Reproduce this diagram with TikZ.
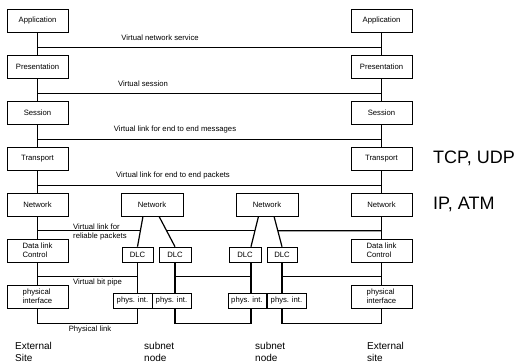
\documentclass[tikz,border=0pt]{standalone}
\usepackage{fontspec}
\setmainfont{Liberation Sans}
\begin{document}
\begin{tikzpicture}[x=1pt, y=-1pt,
    layer/.style={draw, line width=0.6pt, minimum width=61pt, minimum height=23pt,
        inner sep=1pt, align=left, font=\fontsize{7.7}{9}\selectfont},
    smallbox/.style={draw, line width=0.6pt, minimum height=15pt, inner sep=1pt,
        font=\fontsize{7.7}{9}\selectfont},
    link/.style={line width=1.2pt},
    vlabel/.style={inner sep=0pt, font=\fontsize{7.7}{9}\selectfont},
    sitelabel/.style={inner sep=0pt, anchor=north west, align=left,
        font=\fontsize{10}{12}\selectfont},
    protolabel/.style={inner sep=0pt, anchor=west, font=\fontsize{18}{20}\selectfont}]
    \useasboundingbox (0,0) rectangle (523,363);
    % end system, left
    \node[layer] (appL) at (37.5,20.5) {Application};
    \node[layer] (presL) at (37.5,66.5) {Presentation};
    \node[layer] (sessL) at (37.5,112.5) {Session};
    \node[layer] (tranL) at (37.5,158.5) {Transport};
    \node[layer] (netL) at (37.5,204.5) {Network};
    \node[layer] (dlcL) at (37.5,250.5) {Data link\\Control};
    \node[layer] (phyL) at (37.5,296.5) {physical\\interface};
    % end system, right
    \node[layer] (appR) at (381.5,20.5) {Application};
    \node[layer] (presR) at (381.5,66.5) {Presentation};
    \node[layer] (sessR) at (381.5,112.5) {Session};
    \node[layer] (tranR) at (381.5,158.5) {Transport};
    \node[layer] (netR) at (381.5,204.5) {Network};
    \node[layer] (dlcR) at (381.5,250.5) {Data link\\Control};
    \node[layer] (phyR) at (381.5,296.5) {physical\\interface};
    % subnet nodes
    \node[smallbox, minimum width=62pt, minimum height=23pt] (netA) at (152,204.5) {Network};
    \node[smallbox, minimum width=62pt, minimum height=23pt] (netB) at (267,204.5) {Network};
    \node[smallbox, minimum width=31pt] (dlcA) at (137.5,254.5) {DLC};
    \node[smallbox, minimum width=32pt] (dlcB) at (175,254.5) {DLC};
    \node[smallbox, minimum width=32pt] (dlcC) at (245,254.5) {DLC};
    \node[smallbox, minimum width=30pt] (dlcD) at (282,254.5) {DLC};
    \node[smallbox, minimum width=39pt] (physA) at (132.5,300.5) {phys. int.};
    \node[smallbox, minimum width=39pt] (physB) at (171.5,300.5) {phys. int.};
    \node[smallbox, minimum width=38pt] (physC) at (247,300.5) {phys. int.};
    \node[smallbox, minimum width=39pt] (physD) at (286.5,300.5) {phys. int.};
    % layer stacks
    \draw[link] (appL) -- (presL) (presL) -- (sessL) (sessL) -- (tranL)
        (tranL) -- (netL) (netL) -- (dlcL) (dlcL) -- (phyL);
    \draw[link] (appR) -- (presR) (presR) -- (sessR) (sessR) -- (tranR)
        (tranR) -- (netR) (netR) -- (dlcR) (dlcR) -- (phyR);
    % peer links
    \draw[link] ([yshift=7.5pt]presL.north) -- ([yshift=7.5pt]presR.north);
    \draw[link] ([yshift=7.5pt]sessL.north) -- ([yshift=7.5pt]sessR.north);
    \draw[link] ([yshift=7.5pt]tranL.north) -- ([yshift=7.5pt]tranR.north);
    \draw[link] ([yshift=7.5pt]netL.north) -- ([yshift=7.5pt]netR.north);
    % network to DLC
    \coordinate (sA) at ([xshift=-9pt]netA.south);
    \coordinate (sB) at ([xshift=7pt]netA.south);
    \coordinate (sC) at ([xshift=-8.5pt]netB.south);
    \coordinate (sD) at ([xshift=7pt]netB.south);
    \coordinate (tA) at (dlcA.north);
    \coordinate (tB) at (dlcB.north);
    \coordinate (tC) at ([xshift=6pt]dlcC.north);
    \coordinate (tD) at (dlcD.north);
    \draw[link] (sA) -- (tA);
    \draw[link] (sB) -- (tB);
    \draw[link] (sC) -- (tC);
    \draw[link] (sD) -- (tD);
    \coordinate (rlL) at ([yshift=8pt]dlcL.north);
    \coordinate (rlR) at ([yshift=8pt]dlcR.north);
    \draw[link] (rlL) -- (intersection of sA--tA and rlL--rlR);
    \draw[link] (intersection of sB--tB and rlL--rlR) -- (intersection of sC--tC and rlL--rlR);
    \draw[link] (intersection of sD--tD and rlL--rlR) -- (rlR);
    % DLC to physical interface
    \draw[link] (tA |- dlcA.south) -- (tA |- physA.north);
    \draw[link] (tB |- dlcB.south) -- (tB |- physB.north);
    \draw[link] (tC |- dlcC.south) -- (tC |- physC.north);
    \draw[link] (tD |- dlcD.south) -- (tD |- physD.north);
    \coordinate (bpL) at ([yshift=8pt]phyL.north);
    \coordinate (bpR) at ([yshift=8pt]phyR.north);
    \draw[link] (bpL) -- (bpL -| tA);
    \draw[link] (bpL -| tB) -- (bpL -| tC);
    \draw[link] (bpL -| tD) -- (bpR);
    % physical links
    \draw[link] (phyL.south) -- ++(0,15.5) -| (tA |- physA.south);
    \draw[link] (tB |- physB.south) -- ++(0,15.5) -| (tC |- physC.south);
    \draw[link] (tD |- physD.south) -- ++(0,15.5) -| (phyR.south);
    % labels
    \node[vlabel] (vns) at (160,38) {Virtual network service};
    \node[vlabel] (vses) at (143,84) {Virtual session};
    \node[vlabel] (vmsg) at (175,130) {Virtual link for end to end messages};
    \node[vlabel] (vpkt) at (173,176) {Virtual link for end to end packets};
    \node[vlabel, anchor=west, align=left] (vrel) at (73,232.5) {Virtual link for\\reliable packets};
    \node[vlabel, anchor=west] (vbit) at (73,283) {Virtual bit pipe};
    \node[vlabel, anchor=north] (plink) at (90,326) {Physical link};
    \node[sitelabel] (siteL) at (15,342) {External\\Site};
    \node[sitelabel] (siteA) at (144,342) {subnet\\node};
    \node[sitelabel] (siteB) at (255,342) {subnet\\node};
    \node[sitelabel] (siteR) at (367,342) {External\\site};
    \node[protolabel] (tcp) at (433,158.5) {TCP, UDP};
    \node[protolabel] (ipatm) at (433,204.5) {IP, ATM};
\end{tikzpicture}
\end{document}
